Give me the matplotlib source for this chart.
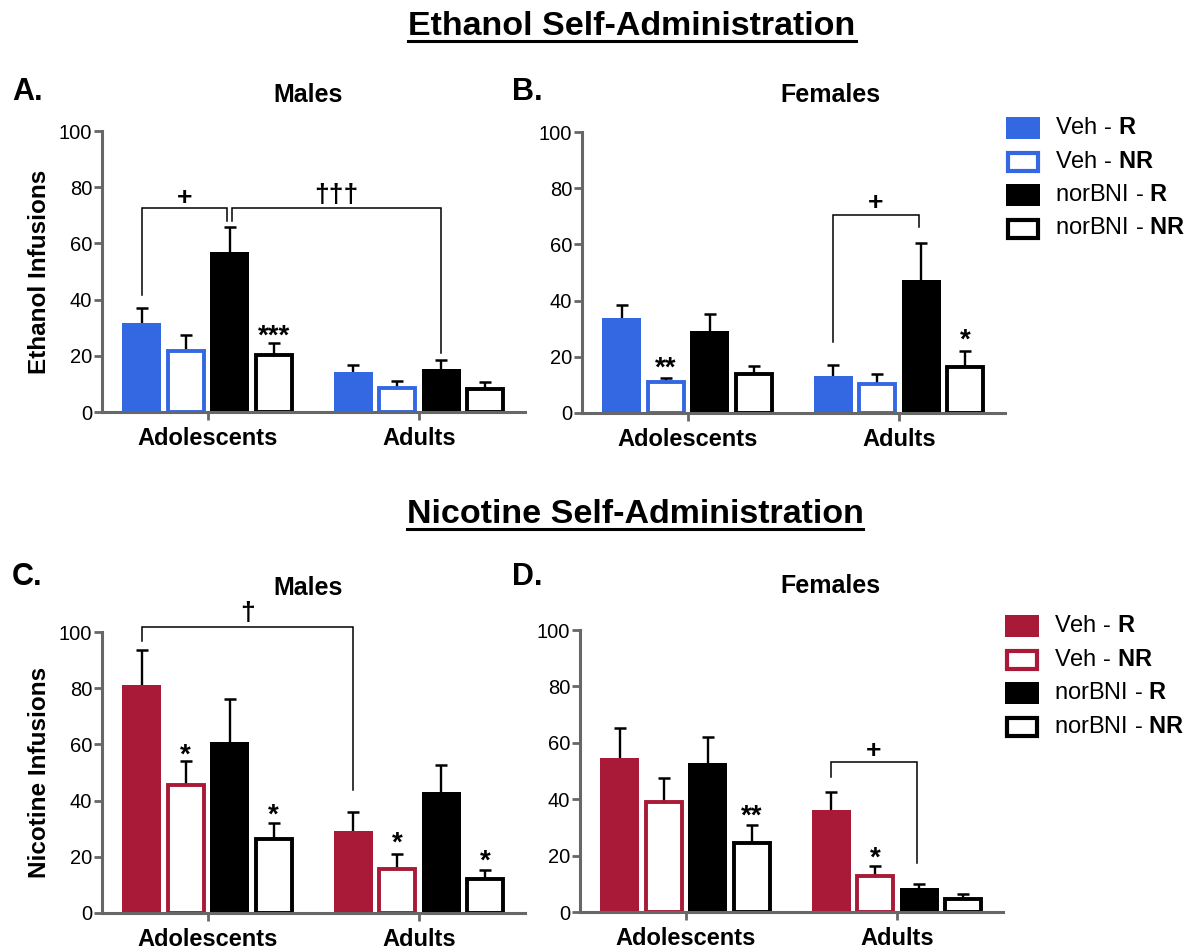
import matplotlib
matplotlib.use('Agg')
import matplotlib.pyplot as plt
from matplotlib.patches import Rectangle
from matplotlib.lines import Line2D

plt.rcParams['font.family'] = ['Liberation Sans', 'DejaVu Sans']
plt.rcParams['mathtext.fontset'] = 'custom'
plt.rcParams['mathtext.rm'] = 'Liberation Sans'
plt.rcParams['mathtext.bf'] = 'Liberation Sans:bold'

# ---------------- data ----------------
groups = ['Adolescents', 'Adults']
series = ['Veh - R', 'Veh - NR', 'norBNI - R', 'norBNI - NR']
legend_labels = ['Veh - $\\mathbf{R}$', 'Veh - $\\mathbf{NR}$',
                 'norBNI - $\\mathbf{R}$', 'norBNI - $\\mathbf{NR}$']
yticks = [0, 20, 40, 60, 80, 100]

# [group][series]
eth_male_mean = [[31.6, 21.8, 56.9, 20.4], [14.2, 8.5, 15.2, 8.2]]
eth_male_sem = [[5.4, 5.6, 9.1, 4.1], [2.5, 2.5, 3.2, 2.3]]
eth_female_mean = [[33.7, 10.9, 29.2, 13.8], [13.0, 10.3, 47.3, 16.5]]
eth_female_sem = [[4.8, 1.5, 5.9, 3.0], [4.2, 3.7, 13.3, 5.6]]
nic_male_mean = [[81.3, 45.6, 60.7, 26.4], [29.3, 15.7, 43.2, 12.2]]
nic_male_sem = [[12.4, 8.4, 15.3, 5.6], [6.6, 5.4, 9.5, 3.2]]
nic_female_mean = [[54.7, 39.0, 52.9, 24.6], [36.3, 12.9, 8.5, 4.7]]
nic_female_sem = [[10.6, 8.5, 9.2, 6.1], [6.4, 3.5, 1.5, 1.7]]

# significance brackets: (group1, bar1, group2, bar2, bracket_y, leg1_bottom, leg2_bottom, label, label_y)
eth_male_brackets = [(0, 0, 0, 2, 72.7, 41.7, 67.8, '+', 76.7),
                     (0, 2, 1, 2, 72.7, 67.8, 21.0, '†††', 77.8)]
eth_female_brackets = [(1, 0, 1, 2, 70.4, 25.1, 66.3, '+', 75.1)]
nic_male_brackets = [(0, 0, 1, 0, 101.8, 96.8, 43.6, '†', 107.1)]
nic_female_brackets = [(1, 0, 1, 2, 53.3, 47.9, 17.4, '+', 57.4)]

# star markers: (group, bar, text, y_center)
eth_male_stars = [(0, 3, '***', 29.9)]
eth_female_stars = [(0, 1, '**', 18.9), (1, 3, '*', 28.8)]
nic_male_stars = [(0, 1, '*', 59.1), (0, 3, '*', 37.6), (1, 1, '*', 27.5), (1, 3, '*', 21.1)]
nic_female_stars = [(0, 3, '**', 36.7), (1, 1, '*', 21.9)]

BLUE = '#3368E2'
RED = '#A81A38'
BLACK = '#000000'
AXGREY = '#676767'

W, H = 1195, 949
fig = plt.figure(figsize=(W / 100, H / 100), dpi=100)


def fx(px):
    return px / W


def fy(py):
    return 1 - py / H


def make_ax(l, t, r, b):
    return fig.add_axes([fx(l), fy(b), fx(r - l), (b - t) / H])


STEP = 0.208


def xpos(g, i):
    return g + (i - 1.5) * STEP


def draw_panel(ax, means, sems, color, ylabel, brackets, stars):
    colors = [color, color, BLACK, BLACK]
    filled = [True, False, True, False]
    for i in range(4):
        xs = [xpos(g, i) for g in range(len(groups))]
        ms = [means[g][i] for g in range(len(groups))]
        ss = [sems[g][i] for g in range(len(groups))]
        tops = [m + s for m, s in zip(ms, ss)]
        ax.vlines(xs, ms, tops, colors='black', linewidth=1.7, zorder=1)
        ax.plot(xs, tops, linestyle='none', marker='_', markersize=8.6,
                markeredgewidth=1.8, color='black', zorder=1)
        if filled[i]:
            ax.bar(xs, ms, width=0.185, color=colors[i], edgecolor='none', zorder=2)
        else:
            ax.bar(xs, ms, width=0.168, facecolor='white', edgecolor=colors[i],
                   linewidth=2.8, zorder=2)
    ax.set_xlim(-0.5, 1.5)
    ax.set_ylim(0, 100)
    ax.set_yticks(yticks)
    ax.set_xticks(range(len(groups)))
    ax.set_xticklabels(groups, fontsize=17, fontweight='bold')
    ax.tick_params(axis='y', direction='out', length=5.5, width=2, color=AXGREY,
                   labelsize=14.5, pad=1.5)
    ax.tick_params(axis='x', direction='out', length=6, width=2, color=AXGREY, pad=4.5)
    for s in ['top', 'right']:
        ax.spines[s].set_visible(False)
    for s in ['left', 'bottom']:
        ax.spines[s].set_color(AXGREY)
        ax.spines[s].set_linewidth(2.2)
    if ylabel:
        ax.set_ylabel(ylabel, fontsize=17.5, fontweight='bold', labelpad=6)
    for (g1, b1, g2, b2, yb, l1, l2, lab, ly) in brackets:
        x1 = xpos(g1, b1)
        x2 = xpos(g2, b2)
        if b1 == 2 and g1 == g2 - 1:
            x1 += 0.011
        if b2 == 2 and g1 == g2:
            x2 -= 0.011
        ax.plot([x1, x1, x2, x2], [l1, yb, yb, l2], color='black', lw=1.1,
                clip_on=False, zorder=3, solid_joinstyle='miter')
        ax.annotate(lab, xy=((x1 + x2) / 2, ly), xytext=(0, -6), textcoords='offset points',
                    ha='center', va='baseline', fontsize=19, fontweight='bold',
                    annotation_clip=False)
    for (g, b, lab, yc) in stars:
        ax.annotate(lab, xy=(xpos(g, b), yc), xytext=(0, -11), textcoords='offset points',
                    ha='center', va='baseline', fontsize=20, fontweight='bold',
                    annotation_clip=False)


axA = make_ax(102, 131, 525, 412)
axB = make_ax(582, 132, 1005, 413)
axC = make_ax(102, 632, 525, 913)
axD = make_ax(580, 630, 1003, 912)

draw_panel(axA, eth_male_mean, eth_male_sem, BLUE, 'Ethanol Infusions',
           eth_male_brackets, eth_male_stars)
draw_panel(axB, eth_female_mean, eth_female_sem, BLUE, None,
           eth_female_brackets, eth_female_stars)
draw_panel(axC, nic_male_mean, nic_male_sem, RED, 'Nicotine Infusions',
           nic_male_brackets, nic_male_stars)
draw_panel(axD, nic_female_mean, nic_female_sem, RED, None,
           nic_female_brackets, nic_female_stars)

# panel labels and subtitles
for (lab, x, y) in [('A.', 12, 100), ('B.', 512, 100), ('C.', 12, 585), ('D.', 512, 585)]:
    fig.text(fx(x), fy(y), lab, fontsize=22, fontweight='bold', ha='left', va='baseline')
for (lab, x, y) in [('Males', 308, 102), ('Females', 830, 102), ('Males', 308, 595),
                    ('Females', 830, 593)]:
    fig.text(fx(x), fy(y), lab, fontsize=18, fontweight='bold', ha='center', va='baseline')

# main titles with underline
renderer = fig.canvas.get_renderer()
for (lab, x, y) in [('Ethanol Self-Administration', 632, 35),
                    ('Nicotine Self-Administration', 635, 523)]:
    t = fig.text(fx(x), fy(y), lab, fontsize=24.5, fontweight='bold', ha='center',
                 va='baseline')
    bb = t.get_window_extent(renderer=renderer)
    x0, x1 = bb.x0 / W, bb.x1 / W
    fig.add_artist(Line2D([x0, x1], [fy(y + 6), fy(y + 6)], color='black', lw=2.2,
                          transform=fig.transFigure))


def draw_legend(color, left, rows):
    colors = [color, color, BLACK, BLACK]
    filled = [True, False, True, False]
    for i, yc in enumerate(rows):
        if filled[i]:
            r = Rectangle((fx(left), fy(yc + 11)), 34 / W, 22 / H, facecolor=colors[i],
                          edgecolor='none', transform=fig.transFigure)
        else:
            r = Rectangle((fx(left + 2), fy(yc + 9)), 30 / W, 18 / H, facecolor='white',
                          edgecolor=colors[i], linewidth=3, transform=fig.transFigure)
        fig.add_artist(r)
        fig.text(fx(left + 49), fy(yc), legend_labels[i], fontsize=17, ha='left',
                 va='center')


draw_legend(BLUE, 1006, [128, 161.5, 195, 228.5])
draw_legend(RED, 1005, [626, 660, 693, 727])

fig.savefig('out.png', dpi=100)
